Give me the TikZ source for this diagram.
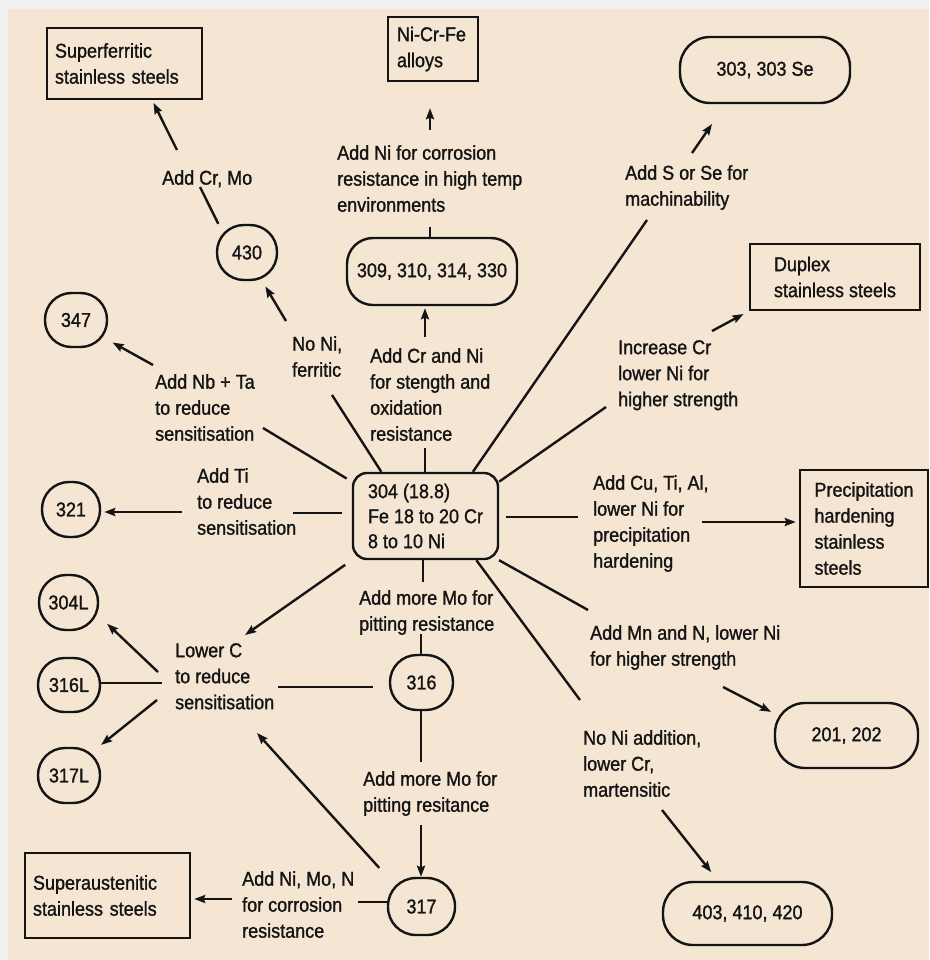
\documentclass[tikz,border=0pt]{standalone}
\usepackage{fontspec}
\setmainfont{Liberation Sans}[FakeStretch=0.9,FakeBold=1.2]
\usetikzlibrary{arrows.meta,calc}
\definecolor{beige}{RGB}{245,230,212}
\definecolor{outer}{RGB}{240,240,240}
\definecolor{ink}{RGB}{20,20,20}
\begin{document}
\begin{tikzpicture}[x=1pt,y=-1pt,
  every node/.style={font=\fontsize{20}{26}\selectfont, text=ink},
  ln/.style={draw=ink, line width=2.4pt},
  ar/.style={ln, -{Stealth[length=11pt,width=8pt,inset=1.5pt]}},
  rbox/.style={draw=ink, line width=2.4pt, inner sep=0pt, align=left},
  pill/.style={draw=ink, line width=2.4pt, inner sep=0pt, rounded corners=#1},
  lbl/.style={inner sep=0pt, anchor=north west, align=left},
]
\useasboundingbox (0,0) rectangle (929,960);
\fill[outer] (0,0) rectangle (929,960);
\fill[beige] (8,9) rectangle (929,960);

% boxes
\node[rbox, minimum width=155pt, minimum height=71pt, text width=139pt] (sf) at (124.5,63.5) {Superferritic\\stainless steels};
\node[rbox, minimum width=90pt, minimum height=64pt, text width=72pt] (ncf) at (433,49) {Ni-Cr-Fe\\alloys};
\node[rbox, minimum width=170pt, minimum height=66pt] (dup) at (835,277) {Duplex\\stainless steels};
\node[rbox, minimum width=128pt, minimum height=117pt] (prec) at (864,528.5) {Precipitation\\hardening\\stainless\\steels};
\node[rbox, minimum width=165pt, minimum height=85pt, text width=149pt] (sa) at (107.5,895.5) {Superaustenitic\\stainless steels};

% rounded nodes
\node[pill=30, minimum width=170pt, minimum height=66pt] (n303) at (765,70) {303, 303 Se};
\node[pill=26, minimum width=170pt, minimum height=67pt] (n309) at (432,271.5) {309, 310, 314, 330};
\node[pill=27, minimum width=60pt, minimum height=55pt] (n430) at (247,252.5) {430};
\node[pill=26.5, minimum width=62pt, minimum height=54pt] (n347) at (76,320) {347};
\node[pill=27, minimum width=58pt, minimum height=55pt] (n321) at (71,509.5) {321};
\node[pill=14, minimum width=145pt, minimum height=86pt, align=left, font=\fontsize{20}{25}\selectfont] (n304) at (425.5,516) {304 (18.8)\\Fe 18 to 20 Cr\\8 to 10 Ni};
\node[pill=27, minimum width=59pt, minimum height=55pt] (n304L) at (68.5,602.5) {304L};
\node[pill=26.5, minimum width=62pt, minimum height=54pt] (n316L) at (69,685) {316L};
\node[pill=27, minimum width=62pt, minimum height=55pt] (n317L) at (69,775.5) {317L};
\node[pill=27, minimum width=63pt, minimum height=55pt] (n316) at (421.5,682.5) {316};
\node[pill=28, minimum width=67pt, minimum height=57pt] (n317) at (421.5,906.5) {317};
\node[pill=30, minimum width=143pt, minimum height=65pt] (n201) at (846.5,735.5) {201, 202};
\node[pill=30, minimum width=169pt, minimum height=63pt] (n403) at (747.5,913.5) {403, 410, 420};

% labels
\node[lbl] (lCrMo) at (162,170) {Add Cr, Mo};
\node[lbl] (lNiHT) at (337,145) {Add Ni for corrosion\\resistance in high temp\\environments};
\node[lbl] (lSSe) at (625,165) {Add S or Se for\\machinability};
\node[lbl] (lNoNi) at (292,336) {No Ni,\\ferritic};
\node[lbl] (lCrNi) at (370,348) {Add Cr and Ni\\for stength and\\oxidation\\resistance};
\node[lbl] (lNbTa) at (155,374) {Add Nb + Ta\\to reduce\\sensitisation};
\node[lbl] (lTi) at (197,468) {Add Ti\\to reduce\\sensitisation};
\node[lbl] (lIncCr) at (618,340) {Increase Cr\\lower Ni for\\higher strength};
\node[lbl] (lCu) at (593,475) {Add Cu, Ti, Al,\\lower Ni for\\precipitation\\hardening};
\node[lbl] (lMo1) at (359,590) {Add more Mo for\\pitting resistance};
\node[lbl] (lMn) at (590,625) {Add Mn and N, lower Ni\\for higher strength};
\node[lbl] (lLowC) at (175,643) {Lower C\\to reduce\\sensitisation};
\node[lbl] (lMo2) at (363,771) {Add more Mo for\\pitting resitance};
\node[lbl] (lNiMoN) at (242,871) {Add Ni, Mo, N\\for corrosion\\resistance};
\node[lbl] (lMart) at (583,730) {No Ni addition,\\lower Cr,\\martensitic};

% free ends
\coordinate (c1) at (200,187);
\coordinate (c2) at (177,150);
\coordinate (c3a) at (332,395);
\coordinate (c3b) at (286,321);
\coordinate (c4) at (425,337);
\coordinate (c5) at (425,448);
\coordinate (c6) at (430,227);
\coordinate (c7) at (430,130);
\coordinate (c8) at (692,153);
\coordinate (c9) at (647,220);
\coordinate (c10) at (606,407);
\coordinate (c11) at (712,331);
\coordinate (c12) at (578,517);
\coordinate (c13) at (702,522);
\coordinate (c14) at (588,610);
\coordinate (c15) at (580,700);
\coordinate (c16) at (723,687);
\coordinate (c17) at (662,810);
\coordinate (c18) at (423,582);
\coordinate (c19) at (421,634);
\coordinate (c20) at (421,762);
\coordinate (c21) at (421,825);
\coordinate (c22) at (278,687);
\coordinate (c23) at (257,733);
\coordinate (c24) at (358,902);
\coordinate (c25) at (232,899);
\coordinate (c26) at (245,635);
\coordinate (c27) at (158,672);
\coordinate (c28) at (162,683);
\coordinate (c29) at (157,700);
\coordinate (c30) at (153,365);
\coordinate (c31) at (263,428);
\coordinate (c32) at (182,512);
\coordinate (c33) at (293,513);

% connectors
\draw[ln] (n430.135) -- (c1);
\draw[ar, shorten >=3pt] (c2) -- (sf.-53);
\draw[ln] (n304.135) -- (c3a);
\draw[ar, shorten >=6pt] (c3b) -- (n430.-62);
\draw[ar, shorten >=2pt] (c4) -- (c4 |- n309.south);
\draw[ln] (c5 |- n304.north) -- (c5);
\draw[ln] (c6 |- n309.north) -- (c6);
\draw[ar, shorten >=26pt] (c7) -- (c7 |- ncf.south);
\draw[ar, shorten >=24pt] (c8) -- (n303.-139);
\draw[ln] (n304.43) -- (c9);
\draw[ln] (n304.25) -- (c10);
\draw[ar, shorten >=6pt] (c11) -- (dup.south west);
\draw[ln, shorten <=7pt] (c12 -| n304.east) -- (c12);
\draw[ar, shorten >=3pt] (c13) -- (c13 -| prec.west);
\draw[ln] (n304.-31) -- (c14);
\draw[ln] (n304.-41) -- (c15);
\draw[ar, shorten >=3pt] (c16) -- (n201.163);
\draw[ar, shorten >=11pt] (c17) -- (n403.132);
\draw[ln] (c18 |- n304.south) -- (c18);
\draw[ln] (c19) -- (c19 |- n316.north);
\draw[ln] (c20 |- n316.south) -- (c20);
\draw[ar] (c21) -- (c21 |- n317.north);
\draw[ln, shorten <=16pt] (c22 -| n316.west) -- (c22);
\draw[ar, shorten <=12pt] (n317.139) -- (c23);
\draw[ln] (c24 -| n317.west) -- (c24);
\draw[ar, shorten >=3pt] (c25) -- (c25 -| sa.east);
\draw[ar, shorten <=8pt] (n304.south west) -- (c26);
\draw[ar, shorten >=11pt] (c27) -- (n304L.-24);
\draw[ln] (c28 -| n316L.east) -- (c28);
\draw[ar, shorten >=3pt] (c29) -- (n317L.44);
\draw[ar, shorten >=5pt] (c30) -- (n347.-32);
\draw[ln, shorten <=6pt] (n304.155) -- (c31);
\draw[ar, shorten >=3pt] (c32) -- (c32 -| n321.east);
\draw[ln, shorten <=10pt] (c33 -| n304.west) -- (c33);
\end{tikzpicture}
\end{document}
